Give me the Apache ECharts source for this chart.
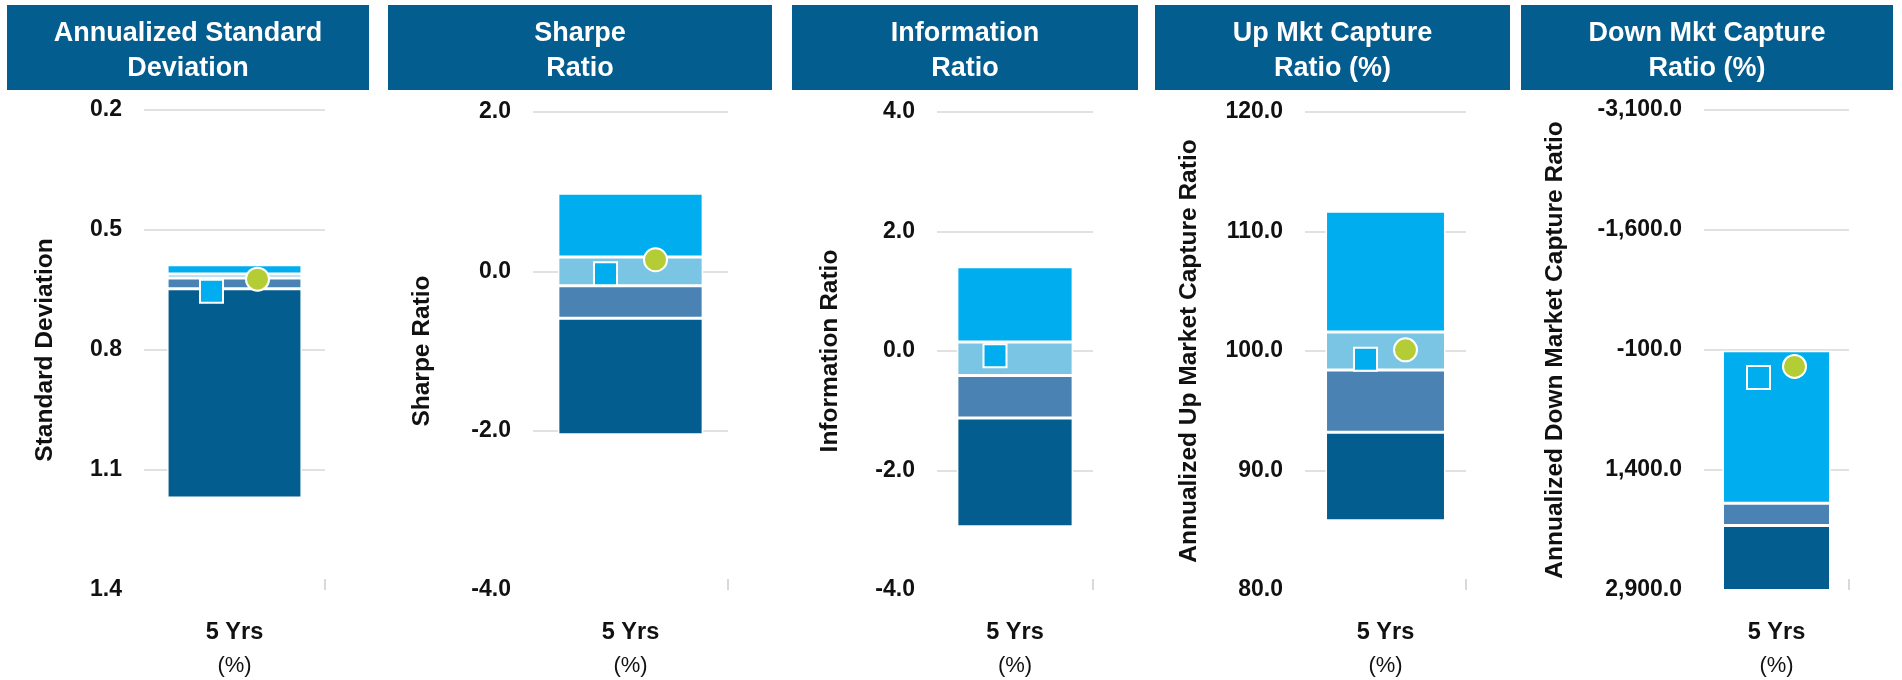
<!DOCTYPE html>
<html>
<head>
<meta charset="utf-8">
<script src="https://cdn.jsdelivr.net/npm/echarts@6/dist/echarts.min.js"></script>
<style>
  html, body { margin: 0; padding: 0; background: #ffffff; }
  #chart { width: 1902px; height: 680px; }
</style>
</head>
<body>
<div id="chart"></div>
<script>
// ---------- data ----------
const panelTitles = [
  'Annualized Standard\nDeviation',
  'Sharpe\nRatio',
  'Information\nRatio',
  'Up Mkt Capture\nRatio (%)',
  'Down Mkt Capture\nRatio (%)'
];
const axisNames = [
  'Standard Deviation',
  'Sharpe Ratio',
  'Information Ratio',
  'Annualized Up Market Capture Ratio',
  'Annualized Down Market Capture Ratio'
];
const categories = ['5 Yrs'];
const categoryUnit = '(%)';
const axisMin = [0.2, -4, -4, 80, -3100];
const axisMax = [1.4, 2, 4, 120, 2900];
const axisInterval = [0.3, 2, 2, 10, 1500];
const axisInverse = [true, false, false, false, true];

// percentile band boundaries, listed from the top of each bar to its bottom
const stdDevBounds      = [0.587, 0.610, 0.620, 0.647, 1.170];
const sharpeBounds      = [0.98, 0.18, -0.18, -0.59, -2.05];
const infoRatioBounds   = [1.41, 0.15, -0.41, -1.12, -2.94];
const upCaptureBounds   = [111.7, 101.6, 98.4, 93.2, 85.8];
const downCaptureBounds = [-90, 1815, 1815, 2095, 2905];
const allBounds = [stdDevBounds, sharpeBounds, infoRatioBounds, upCaptureBounds, downCaptureBounds];

// markers: square (fund) and circle (benchmark)
const squareValues = [0.653, -0.03, -0.08, 99.3, 245];
const circleValues = [0.623, 0.145, null, 100.1, 105];

// ---------- style / layout ----------
const FONT = '"Liberation Sans", Arial, sans-serif';
const headerColor = '#045d8f';
const bandColors = ['#00aeef', '#7ac4e4', '#4a82b4', '#045d8f'];
const squareColor = '#00aeef';
const circleColor = '#b4cd35';
const gridBoxes = [
  { left: 144,  top: 110, width: 181, height: 480 },
  { left: 533,  top: 112, width: 195, height: 478 },
  { left: 937,  top: 112, width: 156, height: 478 },
  { left: 1305, top: 112, width: 161, height: 478 },
  { left: 1704, top: 110, width: 145, height: 480 }
];
const headerBoxes = [
  { x: 7,    w: 362 },
  { x: 388,  w: 384 },
  { x: 792,  w: 346 },
  { x: 1155, w: 355 },
  { x: 1521, w: 372 }
];
const nameGaps = [86, 98, 94, 103, 136];

function fmt(v) {
  return Number(v).toLocaleString('en-US', { minimumFractionDigits: 1, maximumFractionDigits: 1 });
}

const chart = echarts.init(document.getElementById('chart'));

const grid = [], xAxis = [], yAxis = [], series = [], graphic = [];

for (let i = 0; i < 5; i++) {
  const g = gridBoxes[i];
  grid.push({ left: g.left, top: g.top, width: g.width, height: g.height, containLabel: false });

  xAxis.push({
    gridIndex: i,
    type: 'category',
    data: categories,
    axisLine: { show: false },
    axisTick: { show: false },
    splitLine: { show: false },
    axisLabel: {
      margin: 26,
      formatter: (v) => '{a|' + v + '}\n{b|' + categoryUnit + '}',
      rich: {
        a: { fontFamily: FONT, fontWeight: 'bold', fontSize: 23.5, color: '#111', lineHeight: 33 },
        b: { fontFamily: FONT, fontWeight: 'normal', fontSize: 22, color: '#111', lineHeight: 33 }
      }
    }
  });

  yAxis.push({
    gridIndex: i,
    type: 'value',
    min: axisMin[i],
    max: axisMax[i],
    interval: axisInterval[i],
    inverse: axisInverse[i],
    name: axisNames[i],
    nameLocation: 'middle',
    nameRotate: 90,
    nameGap: nameGaps[i],
    nameTextStyle: { fontFamily: FONT, fontWeight: 'bold', fontSize: 24.5, color: '#111' },
    axisLine: { show: false },
    axisTick: { show: false },
    axisLabel: {
      margin: 22,
      fontFamily: FONT, fontWeight: 'bold', fontSize: 23, color: '#111',
      formatter: fmt
    },
    splitLine: {
      show: true,
      showMinLine: axisInverse[i],
      showMaxLine: !axisInverse[i],
      lineStyle: { color: '#e1e1e1', width: 2 }
    }
  });

  const b = allBounds[i];
  const stackId = 'p' + i;
  // invisible base up to the top bound
  series.push({
    type: 'bar', xAxisIndex: i, yAxisIndex: i,
    stack: stackId, stackStrategy: 'all',
    barWidth: '74.5%',
    data: [b[0]],
    itemStyle: { color: 'rgba(0,0,0,0)', borderWidth: 0 },
    silent: true,
    z: 1
  });
  for (let k = 0; k < 4; k++) {
    series.push({
      type: 'bar', xAxisIndex: i, yAxisIndex: i,
      stack: stackId, stackStrategy: 'all',
      barWidth: '74.5%',
      data: [b[k + 1] - b[k]],
      itemStyle: { color: bandColors[k], borderColor: '#ffffff', borderWidth: 1.5 },
      z: 2
    });
  }

  const off = Math.round(g.width * 0.126);
  series.push({
    type: 'scatter', xAxisIndex: i, yAxisIndex: i,
    symbol: 'rect', symbolSize: 23, symbolOffset: [-off, 0],
    data: [squareValues[i]],
    itemStyle: { color: squareColor, borderColor: '#ffffff', borderWidth: 2, opacity: 1 },
    z: 5
  });
  if (circleValues[i] !== null) {
    series.push({
      type: 'scatter', xAxisIndex: i, yAxisIndex: i,
      symbol: 'circle', symbolSize: 23, symbolOffset: [off, 0],
      data: [circleValues[i]],
      itemStyle: { color: circleColor, borderColor: '#ffffff', borderWidth: 2, opacity: 1 },
      z: 5
    });
  }

  // header block
  const h = headerBoxes[i];
  graphic.push({
    type: 'rect', silent: true, z: 0,
    shape: { x: h.x, y: 5, width: h.w, height: 85 },
    style: { fill: headerColor }
  });
  graphic.push({
    type: 'text', silent: true, z: 1,
    x: h.x + h.w / 2, y: 51,
    style: {
      text: panelTitles[i],
      fill: '#ffffff',
      font: 'bold 27px ' + FONT,
      align: 'center', verticalAlign: 'middle',
      textAlign: 'center', textVerticalAlign: 'middle',
      lineHeight: 35
    }
  });
  // small boundary tick at the bottom right of each plot
  graphic.push({
    type: 'line', silent: true, z: 1,
    shape: { x1: g.left + g.width, y1: g.top + g.height - 11, x2: g.left + g.width, y2: g.top + g.height },
    style: { stroke: '#d9d9d9', lineWidth: 2 }
  });
}

chart.setOption({
  animation: false,
  backgroundColor: '#ffffff',
  grid, xAxis, yAxis, series, graphic
});
</script>
</body>
</html>
